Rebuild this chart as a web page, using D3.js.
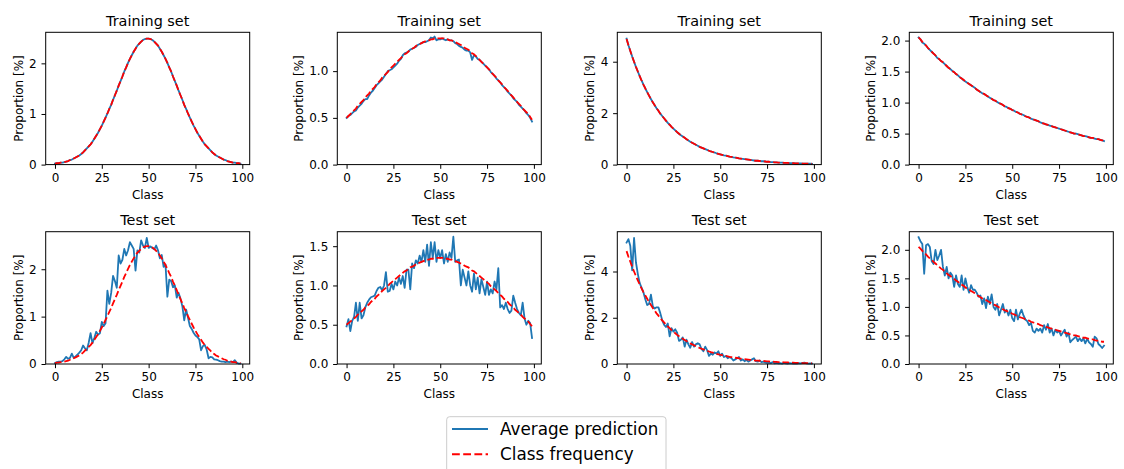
<!DOCTYPE html>
<html>
<head>
<meta charset="utf-8">
<script src="https://cdn.jsdelivr.net/npm/d3@7"></script>
<style>
  body { margin: 0; background: #fff; }
  text { font-family: "DejaVu Sans", sans-serif; fill: #000; }
</style>
</head>
<body>
<svg id="chart" width="1124" height="469"></svg>
<script>
// Class frequency per column (same distribution for training and test rows)
const freqNormal = [0.02,0.03,0.03,0.04,0.04,0.05,0.06,0.07,0.09,0.10,0.12,0.14,0.16,0.18,0.21,0.24,0.28,0.32,0.36,0.40,
  0.45,0.51,0.57,0.63,0.70,0.77,0.85,0.93,1.01,1.10,1.18,1.28,1.37,1.46,1.56,1.65,1.74,1.84,1.92,2.01,
  2.09,2.16,2.23,2.29,2.35,2.39,2.43,2.46,2.48,2.49,2.49,2.48,2.46,2.43,2.39,2.35,2.29,2.23,2.16,2.09,
  2.01,1.92,1.84,1.74,1.65,1.56,1.46,1.37,1.28,1.18,1.10,1.01,0.93,0.85,0.77,0.70,0.63,0.57,0.51,0.45,
  0.40,0.36,0.32,0.28,0.24,0.21,0.18,0.16,0.14,0.12,0.10,0.09,0.07,0.06,0.05,0.04,0.04,0.03,0.03,0.02];
const freqWide = [0.50,0.52,0.54,0.56,0.58,0.60,0.63,0.65,0.67,0.69,0.72,0.74,0.76,0.79,0.81,0.83,0.86,0.88,0.90,0.93,
  0.95,0.97,0.99,1.02,1.04,1.06,1.08,1.10,1.12,1.14,1.16,1.18,1.19,1.21,1.23,1.24,1.25,1.27,1.28,1.29,
  1.30,1.31,1.32,1.33,1.33,1.34,1.34,1.35,1.35,1.35,1.35,1.35,1.35,1.34,1.34,1.33,1.33,1.32,1.31,1.30,
  1.29,1.28,1.27,1.25,1.24,1.23,1.21,1.19,1.18,1.16,1.14,1.12,1.10,1.08,1.06,1.04,1.02,0.99,0.97,0.95,
  0.93,0.90,0.88,0.86,0.83,0.81,0.79,0.76,0.74,0.72,0.69,0.67,0.65,0.63,0.60,0.58,0.56,0.54,0.51,0.48];
const freqSteep = [4.88,4.64,4.42,4.20,4.00,3.80,3.62,3.44,3.27,3.11,2.96,2.82,2.68,2.55,2.42,2.31,2.19,2.09,1.98,1.89,
  1.80,1.71,1.62,1.55,1.47,1.40,1.33,1.26,1.20,1.14,1.09,1.04,0.99,0.94,0.89,0.85,0.81,0.77,0.73,0.69,
  0.66,0.63,0.60,0.57,0.54,0.51,0.49,0.47,0.44,0.42,0.40,0.38,0.36,0.35,0.33,0.31,0.30,0.28,0.27,0.26,
  0.24,0.23,0.22,0.21,0.20,0.19,0.18,0.17,0.16,0.15,0.15,0.14,0.13,0.13,0.12,0.11,0.11,0.10,0.10,0.09,
  0.09,0.08,0.08,0.08,0.07,0.07,0.07,0.06,0.06,0.06,0.05,0.05,0.05,0.05,0.04,0.04,0.04,0.04,0.04,0.03];
const freqSlow = [2.05,2.02,1.98,1.95,1.92,1.88,1.85,1.82,1.79,1.76,1.73,1.70,1.67,1.65,1.62,1.59,1.56,1.54,1.51,1.49,
  1.46,1.44,1.41,1.39,1.37,1.34,1.32,1.30,1.28,1.26,1.24,1.21,1.19,1.17,1.15,1.14,1.12,1.10,1.08,1.06,
  1.04,1.03,1.01,0.99,0.98,0.96,0.94,0.93,0.91,0.90,0.88,0.87,0.85,0.84,0.82,0.81,0.80,0.78,0.77,0.76,
  0.74,0.73,0.72,0.71,0.70,0.68,0.67,0.66,0.65,0.64,0.63,0.62,0.61,0.60,0.59,0.58,0.57,0.56,0.55,0.54,
  0.53,0.52,0.51,0.50,0.50,0.49,0.48,0.47,0.46,0.46,0.45,0.44,0.43,0.43,0.42,0.41,0.41,0.40,0.39,0.39];

// Average prediction, training set
const trainNormal = [0.02,0.03,0.03,0.04,0.04,0.05,0.06,0.07,0.09,0.10,0.12,0.14,0.16,0.18,0.21,0.24,0.28,0.32,0.36,0.40,
  0.45,0.51,0.57,0.63,0.70,0.77,0.85,0.93,1.01,1.10,1.18,1.28,1.37,1.46,1.56,1.65,1.74,1.84,1.92,2.01,
  2.09,2.16,2.23,2.29,2.35,2.39,2.43,2.46,2.48,2.49,2.49,2.48,2.46,2.43,2.39,2.35,2.29,2.23,2.16,2.09,
  2.01,1.92,1.84,1.74,1.65,1.56,1.46,1.37,1.28,1.18,1.10,1.01,0.93,0.85,0.77,0.70,0.63,0.57,0.51,0.45,
  0.40,0.36,0.32,0.28,0.24,0.21,0.18,0.16,0.14,0.12,0.10,0.09,0.07,0.06,0.05,0.04,0.04,0.03,0.03,0.02];
const trainWide = [0.50,0.52,0.53,0.55,0.57,0.58,0.61,0.63,0.65,0.68,0.70,0.70,0.74,0.77,0.79,0.82,0.85,0.87,0.89,0.91,
  0.94,0.97,1.00,1.01,1.02,1.04,1.06,1.08,1.11,1.13,1.17,1.19,1.20,1.21,1.23,1.24,1.25,1.26,1.28,1.29,
  1.30,1.31,1.31,1.32,1.33,1.36,1.35,1.37,1.33,1.34,1.34,1.35,1.34,1.33,1.34,1.33,1.33,1.32,1.30,1.29,
  1.27,1.26,1.25,1.23,1.22,1.22,1.20,1.12,1.17,1.16,1.13,1.12,1.10,1.08,1.06,1.04,1.02,0.99,0.97,0.95,
  0.92,0.90,0.88,0.85,0.83,0.81,0.78,0.76,0.74,0.71,0.69,0.67,0.64,0.62,0.60,0.58,0.55,0.53,0.50,0.46];
const trainSteep = [4.90,4.64,4.42,4.20,4.00,3.80,3.62,3.44,3.27,3.11,2.96,2.82,2.68,2.55,2.42,2.31,2.19,2.09,1.98,1.89,
  1.80,1.71,1.62,1.55,1.47,1.40,1.33,1.26,1.20,1.14,1.09,1.04,0.99,0.94,0.89,0.85,0.81,0.77,0.73,0.69,
  0.66,0.63,0.60,0.57,0.54,0.51,0.49,0.47,0.44,0.42,0.40,0.38,0.36,0.35,0.33,0.31,0.30,0.28,0.27,0.26,
  0.24,0.23,0.22,0.21,0.20,0.19,0.18,0.17,0.16,0.15,0.15,0.14,0.13,0.13,0.12,0.11,0.11,0.10,0.10,0.09,
  0.09,0.08,0.08,0.08,0.07,0.07,0.07,0.06,0.06,0.06,0.05,0.05,0.05,0.05,0.04,0.04,0.04,0.04,0.04,0.03];
const trainSlow = [2.05,2.02,1.97,1.95,1.92,1.88,1.85,1.82,1.79,1.76,1.72,1.70,1.67,1.65,1.62,1.59,1.56,1.54,1.51,1.49,
  1.46,1.44,1.41,1.39,1.36,1.34,1.32,1.30,1.28,1.26,1.24,1.21,1.19,1.17,1.15,1.14,1.12,1.10,1.08,1.06,
  1.04,1.03,1.01,0.99,0.98,0.96,0.94,0.93,0.91,0.90,0.88,0.87,0.85,0.84,0.82,0.81,0.80,0.78,0.77,0.76,
  0.74,0.73,0.72,0.71,0.70,0.68,0.67,0.66,0.65,0.64,0.63,0.62,0.61,0.60,0.59,0.58,0.57,0.56,0.55,0.54,
  0.53,0.52,0.51,0.50,0.50,0.49,0.48,0.47,0.46,0.46,0.45,0.44,0.43,0.43,0.42,0.41,0.41,0.40,0.39,0.38];

// Average prediction, test set
const testNormal = [0.02,0.04,0.05,0.05,0.06,0.10,0.15,0.11,0.13,0.22,0.13,0.16,0.20,0.24,0.29,0.39,0.33,0.29,0.45,0.65,
  0.44,0.55,0.68,0.62,0.65,0.89,0.80,0.86,1.55,1.27,1.50,1.86,1.75,1.61,2.29,2.12,2.20,2.43,2.29,2.40,
  2.57,2.50,2.43,1.97,2.40,2.35,2.61,2.50,2.45,2.66,2.45,2.48,2.45,2.42,2.50,2.40,2.23,2.30,2.05,2.10,
  1.42,1.78,1.75,1.62,1.66,1.40,1.50,1.38,1.22,0.92,1.15,0.98,0.80,0.74,0.66,0.60,0.57,0.52,0.29,0.38,
  0.40,0.30,0.12,0.15,0.14,0.10,0.09,0.08,0.06,0.05,0.05,0.04,0.05,0.04,0.05,0.04,0.08,0.03,0.01,0.01];
const testWide = [0.48,0.57,0.42,0.55,0.60,0.78,0.55,0.78,0.58,0.62,0.72,0.78,0.82,0.85,0.86,0.87,0.93,0.97,0.98,0.94,
  1.00,1.17,0.92,0.93,1.02,0.95,1.05,1.00,1.10,1.02,1.12,0.97,1.20,1.20,0.95,1.28,1.22,1.32,1.28,1.38,
  1.30,1.45,1.30,1.52,1.25,1.55,1.35,1.55,1.30,1.45,1.35,1.45,1.28,1.40,1.30,1.42,1.35,1.62,1.30,1.32,
  1.33,1.00,1.20,1.10,1.00,1.18,1.00,0.92,1.15,0.95,1.10,0.90,1.08,0.98,0.88,1.05,0.88,0.95,0.90,1.05,
  0.95,1.22,0.72,0.75,0.70,0.78,0.70,0.65,0.68,0.87,0.78,0.70,0.65,0.62,0.78,0.58,0.50,0.55,0.52,0.33];
const testSteep = [5.25,5.40,5.10,4.05,5.45,4.40,3.90,3.50,3.30,3.10,2.80,2.55,2.60,3.00,2.50,2.40,2.45,2.45,2.20,1.90,
  1.70,1.60,1.75,1.20,1.55,1.40,1.50,1.35,1.00,1.05,1.15,0.75,1.05,0.85,0.70,0.95,0.75,0.85,0.90,0.85,
  0.65,0.55,0.75,0.60,0.35,0.45,0.40,0.50,0.45,0.55,0.35,0.45,0.30,0.35,0.25,0.30,0.25,0.15,0.20,0.25,
  0.30,0.15,0.20,0.12,0.18,0.10,0.15,0.20,0.25,0.12,0.10,0.15,0.08,0.10,0.07,0.05,0.06,0.04,0.08,0.03,
  0.05,0.03,0.04,0.02,0.05,0.03,0.02,0.04,0.03,0.02,0.03,0.02,0.04,0.03,0.05,0.06,0.03,0.02,0.03,0.02];
const testSlow = [2.22,2.15,2.10,1.58,2.08,2.10,2.05,1.80,1.75,2.00,1.82,1.90,2.00,1.70,1.55,1.70,1.50,1.60,1.55,1.35,
  1.55,1.40,1.35,1.55,1.30,1.50,1.35,1.25,1.38,1.30,1.30,1.25,1.18,1.20,1.05,1.15,0.98,1.18,1.05,1.22,
  1.00,0.95,1.05,0.85,0.95,1.05,0.90,0.95,0.85,0.95,0.80,0.75,0.95,0.78,0.88,0.95,0.85,0.78,0.75,0.68,
  0.72,0.58,0.55,0.62,0.58,0.62,0.55,0.68,0.60,0.70,0.55,0.62,0.50,0.60,0.55,0.58,0.50,0.55,0.60,0.48,
  0.55,0.38,0.42,0.45,0.48,0.40,0.45,0.40,0.45,0.36,0.44,0.38,0.35,0.30,0.48,0.45,0.35,0.32,0.28,0.32];

// Tick values
const xTicks = [0, 25, 50, 75, 100];
const yTicksNormal = [0, 1, 2];
const yTicksWideTrain = [0.0, 0.5, 1.0];
const yTicksWideTest = [0.0, 0.5, 1.0, 1.5];
const yTicksSteep = [0, 2, 4];
const yTicksSlow = [0.0, 0.5, 1.0, 1.5, 2.0];

const panels = [
  { title: "Training set", freq: freqNormal, pred: trainNormal, yTicks: yTicksNormal, fmt: "d" },
  { title: "Training set", freq: freqWide, pred: trainWide, yTicks: yTicksWideTrain, fmt: ".1f" },
  { title: "Training set", freq: freqSteep, pred: trainSteep, yTicks: yTicksSteep, fmt: "d" },
  { title: "Training set", freq: freqSlow, pred: trainSlow, yTicks: yTicksSlow, fmt: ".1f" },
  { title: "Test set", freq: freqNormal, pred: testNormal, yTicks: yTicksNormal, fmt: "d" },
  { title: "Test set", freq: freqWide, pred: testWide, yTicks: yTicksWideTest, fmt: ".1f" },
  { title: "Test set", freq: freqSteep, pred: testSteep, yTicks: yTicksSteep, fmt: "d" },
  { title: "Test set", freq: freqSlow, pred: testSlow, yTicks: yTicksSlow, fmt: ".1f" }
];

const svg = d3.select("#chart");
const colLefts = [45.7, 337.3, 617.3, 909.3];
const rowTops = [32.3, 231.7];
const plotW = 204, plotH = 132.3;
const blue = "#1f77b4", red = "#ff0000";
const dash = "6.66,2.88";

panels.forEach(function (p, i) {
  const left = colLefts[i % 4], top = rowTops[Math.floor(i / 4)];
  const g = svg.append("g").attr("transform", "translate(" + left + "," + top + ")");

  // matplotlib-style autoscale: 5% margins, y forced to start at 0
  const n = p.freq.length;
  const xm = (n - 1) * 0.05;
  const x = d3.scaleLinear().domain([-xm, n - 1 + xm]).range([0, plotW]);
  const all = p.freq.concat(p.pred);
  const ymax = d3.max(all), ymin = d3.min(all);
  const y = d3.scaleLinear().domain([0, ymax + 0.05 * (ymax - ymin)]).range([plotH, 0]);

  // axes
  const xAxis = g.append("g")
    .attr("transform", "translate(0," + plotH + ")")
    .call(d3.axisBottom(x).tickValues(xTicks).tickSize(4.2).tickPadding(4.5).tickSizeOuter(0));
  const yAxis = g.append("g")
    .call(d3.axisLeft(y).tickValues(p.yTicks).tickFormat(d3.format(p.fmt)).tickSize(4.2).tickPadding(4.8).tickSizeOuter(0));
  [xAxis, yAxis].forEach(function (a) {
    a.select(".domain").remove();
    a.selectAll("line").attr("stroke", "#000").attr("stroke-width", 1);
    a.selectAll("text").attr("font-size", "12px").attr("fill", "#000")
      .attr("font-family", "'DejaVu Sans', sans-serif");
  });

  // lines
  const line = d3.line().x(function (d, k) { return x(k); }).y(function (d) { return y(d); });
  g.append("path").datum(p.pred).attr("d", line)
    .attr("fill", "none").attr("stroke", blue).attr("stroke-width", 1.8)
    .attr("stroke-linejoin", "round").attr("stroke-linecap", "square");
  g.append("path").datum(p.freq).attr("d", line)
    .attr("fill", "none").attr("stroke", red).attr("stroke-width", 1.8)
    .attr("stroke-dasharray", dash);

  // frame
  g.append("rect").attr("width", plotW).attr("height", plotH)
    .attr("fill", "none").attr("stroke", "#000").attr("stroke-width", 1);

  // texts
  g.append("text").attr("x", plotW / 2).attr("y", -6.5)
    .attr("text-anchor", "middle").attr("font-size", "14.4px").text(p.title);
  g.append("text").attr("x", plotW / 2).attr("y", plotH + 34)
    .attr("text-anchor", "middle").attr("font-size", "12px").text("Class");

  let maxw = 0;
  yAxis.selectAll("text").each(function () { maxw = Math.max(maxw, this.getBBox().width); });
  g.append("text")
    .attr("transform", "translate(" + (-(maxw + 19.5)) + "," + (plotH / 2) + ") rotate(-90)")
    .attr("text-anchor", "middle").attr("dominant-baseline", "central")
    .attr("font-size", "12px").text("Proportion [%]");
});

// legend
const legend = svg.append("g");
legend.append("rect").attr("x", 446.7).attr("y", 416.7).attr("width", 219.3).attr("height", 60)
  .attr("rx", 3).attr("fill", "#fff").attr("stroke", "#cccccc").attr("stroke-width", 1);
const legendItems = [
  { label: "Average prediction", color: blue, dash: null },
  { label: "Class frequency", color: red, dash: dash }
];
legendItems.forEach(function (d, i) {
  const ly = 429 + i * 25.3;
  const ln = legend.append("line").attr("x1", 452).attr("x2", 488).attr("y1", ly).attr("y2", ly)
    .attr("stroke", d.color).attr("stroke-width", 2.1);
  if (d.dash) ln.attr("stroke-dasharray", "7.8,3.4");
  legend.append("text").attr("x", 500).attr("y", ly).attr("dominant-baseline", "central")
    .attr("font-size", "16.8px").text(d.label);
});
</script>
</body>
</html>
